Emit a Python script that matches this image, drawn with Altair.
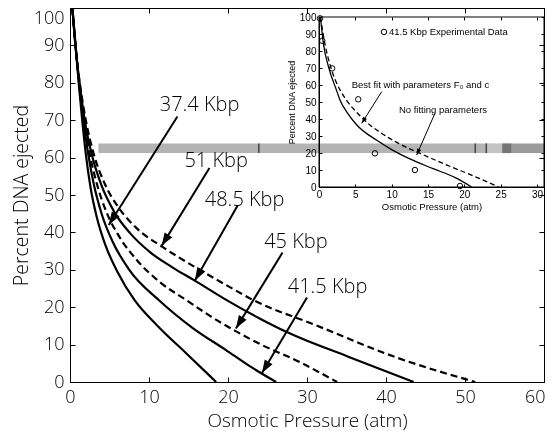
import math
import altair as alt
import pandas as pd

W, H = 474, 374
MAIN_FONT = "Open Sans"
INSET_FONT = "Liberation Sans Narrow, Liberation Sans, Arial, sans-serif"

# ---------------- main plot data ----------------
k374_x = [0.3, 0.7, 1.1, 1.5, 2.0, 2.6, 3.4, 4.5, 6.0, 8.2, 11.0, 14.8, 18.5]
k374_y = [100, 90, 80, 71, 61, 52, 44, 36.5, 29.5, 21.8, 15.2, 7.5, 0]
k415_x = [0.3, 0.7, 1.2, 1.7, 2.3, 3.0, 4.0, 5.4, 7.5, 11.3, 15.5, 19.7, 22.7, 26.1]
k415_y = [100, 90, 79, 70, 61, 53, 45, 37.5, 30, 21.8, 14.5, 8.6, 4.3, 0]
k45_x = [0.3, 0.7, 1.2, 1.8, 2.5, 3.4, 4.6, 6.2, 8.5, 11.5, 14.8, 18.0, 20.8, 24.0, 29.0, 33.8]
k45_y = [100, 90, 79.5, 70, 61, 53, 45.5, 39, 32.5, 26.5, 21.8, 17.3, 13.8, 10.2, 5.4, 0]
k485_x = [0.3, 0.7, 1.3, 1.9, 2.8, 4.0, 5.6, 7.6, 10.2, 13.0, 15.8, 19.5, 24.0, 27.3, 35.3, 43.5]
k485_y = [100, 89.5, 78.5, 69.5, 60.5, 52.5, 45.5, 39.8, 34.6, 30.6, 27.1, 22.3, 17.0, 13.5, 6.7, 0]
k51_x = [0.3, 0.7, 1.3, 2.0, 3.0, 4.4, 6.2, 8.5, 11.8, 16.0, 19.7, 23.3, 31.1, 41.0, 51.3]
k51_y = [100, 89.5, 79, 70, 61, 53, 46.5, 41, 36.0, 30.5, 26, 21.8, 15.2, 6.8, 0]

curve_names = ["37.4", "41.5", "45", "48.5", "51"]
curve_xs = [k374_x, k415_x, k45_x, k485_x, k51_x]
curve_ys = [k374_y, k415_y, k45_y, k485_y, k51_y]
curve_dashed = [False, False, True, False, True]

label_text = ["37.4 Kbp", "51 Kbp", "48.5 Kbp", "45 Kbp", "41.5 Kbp"]
label_x = [16.4, 18.5, 22.1, 28.6, 32.6]
label_y = [74.1, 59.2, 48.7, 37.3, 25.3]
arrow_x0 = [13.6, 17.65, 21.2, 26.9, 30.0]
arrow_y0 = [71.0, 57.2, 47.1, 34.6, 22.6]
arrow_x1 = [4.9, 11.6, 15.8, 21.0, 24.3]
arrow_y1 = [42.0, 36.4, 27.1, 14.3, 2.4]

main_xticks = [0, 10, 20, 30, 40, 50, 60]
main_xlabels_mid = [0, 10, 20, 30, 40, 50]
main_xlabel_end = [60]
main_yticks = [0, 10, 20, 30, 40, 50, 60, 70, 80, 90, 100]
main_ylabels_mid = [0, 10, 20, 30, 40, 50, 60, 70, 80, 90]
main_ylabel_end = [100]

# ---------------- inset data ----------------
IX0 = 249                      # inset x=0 position inside the main plot (px)
IPX = 218 / 30                 # inset px per unit
IX_MAX = (W - IX0) / IPX
exp_x = [0.14, 0.45, 1.8, 5.4, 7.7, 13.2, 19.4]
exp_y = [99.2, 86, 69.8, 51.6, 19.8, 10, 0.6]
fit_x = [0.2, 0.6, 1.3, 2.4, 2.9, 4.0, 5.2, 7.9, 10.0, 12.5, 15.7, 18.9, 21.0]
fit_y = [100, 84.5, 70.8, 57, 51, 43, 36.5, 27.6, 22.0, 16.5, 10.8, 5.2, 0]
nofit_x = [0.2, 0.8, 1.6, 2.9, 3.8, 5.5, 7.0, 9.0, 11.0, 13.9, 17.6, 21.7, 24.7]
nofit_y = [100, 84.5, 70.8, 57, 51, 42.5, 36.5, 30.5, 25.5, 19.8, 12.9, 5.7, 0]
inset_xticks = [0, 5, 10, 15, 20, 25, 30]
inset_yticks = [0, 10, 20, 30, 40, 50, 60, 70, 80, 90, 100]
inset_text = ["41.5 Kbp Experimental Data", "Best fit with parameters F\u2080 and c", "No fitting parameters"]
inset_text_x = [9.63, 13.97, 17.06]
inset_text_y = [91.2, 60.0, 45.3]
inset_text_align = ["left", "center", "center"]
legend_marker_x = [8.94]
legend_marker_y = [91.2]
iarrow_x0 = [8.63, 15.96]
iarrow_y0 = [56.1, 43.4]
iarrow_x1 = [5.88, 13.44]
iarrow_y1 = [37.5, 18.8]

# ---------------- scan band (grey strip) ----------------
band_x0 = [3.6, 52.7, 54.7, 55.9]
band_x1 = [52.7, 54.7, 55.9, 60.2]
band_color = ["#b3b3b3", "#c4c4c4", "#767676", "#9b9b9b"]
band_y0 = [61.2, 61.2, 61.2, 61.2]
band_y1 = [63.8, 63.8, 63.8, 63.8]
stripe_x = [23.9, 51.3, 52.7]


# ---------------- scales ----------------
def mxs():
    return alt.Scale(domain=[0, 60], range=[0, W], nice=False, zero=False)


def mys():
    return alt.Scale(domain=[0, 100], range=[H, 0], nice=False, zero=False)


def ixs():
    return alt.Scale(domain=[0, IX_MAX], range=[IX0, W], nice=False, zero=False)


def iys():
    return alt.Scale(domain=[0, 100], range=[179, 9], nice=False, zero=False)


ARROW_PATH = "M0,0 L-0.9,2.6 L0.9,2.6 Z"


def arrow_angle(x0, y0, x1, y1, sx, sy):
    dx = (x1 - x0) * sx
    dy = -(y1 - y0) * sy
    return (math.degrees(math.atan2(dx, -dy)) + 360) % 360


# ---------------- main curves ----------------
rows = []
for name, xs, ys, dashed in zip(curve_names, curve_xs, curve_ys, curve_dashed):
    for i, (x, y) in enumerate(zip(xs, ys)):
        rows.append({"name": name, "x": x, "y": y, "i": i, "dashed": dashed})
curves_df = pd.DataFrame(rows)

lab_common = dict(labelFont=MAIN_FONT, labelFontSize=18, labelFontWeight=300, labelColor="black",
                  labelOverlap=False, grid=False)
main_x_axis = alt.Axis(orient="bottom", values=main_xlabels_mid, ticks=False, labelPadding=6,
                       labelFlush=False, domainColor="black",
                       title="Osmotic Pressure (atm)", titleFont=MAIN_FONT, titleFontSize=19,
                       titleFontWeight=300, titleColor="black", titlePadding=5, **lab_common)
main_y_axis = alt.Axis(orient="left", values=main_ylabels_mid, ticks=False, labelPadding=6,
                       labelFlush=False, domainColor="black",
                       title="Percent DNA ejected", titleFont=MAIN_FONT, titleFontSize=19.5,
                       titleFontWeight=300, titleColor="black", titlePadding=12, **lab_common)

solid = alt.Chart(curves_df[~curves_df["dashed"]]).mark_line(
    color="black", strokeWidth=2.2, interpolate="monotone").encode(
    x=alt.X("x:Q", scale=mxs(), axis=main_x_axis),
    y=alt.Y("y:Q", scale=mys(), axis=main_y_axis),
    detail="name:N", order="i:Q")

dashed = alt.Chart(curves_df[curves_df["dashed"]]).mark_line(
    color="black", strokeWidth=2.2, strokeDash=[7, 4], interpolate="monotone").encode(
    x=alt.X("x:Q", scale=mxs(), axis=None),
    y=alt.Y("y:Q", scale=mys(), axis=None),
    detail="name:N", order="i:Q")

# the end labels ("60" and "100") are kept inside the page edge
end_labels = alt.Chart(pd.DataFrame({"x": main_xlabel_end, "y": main_ylabel_end})).mark_point(
    opacity=0).encode(
    x=alt.X("x:Q", scale=mxs(), axis=alt.Axis(
        orient="bottom", values=main_xlabel_end, ticks=False, domain=False, labelPadding=6,
        labelFlush=True, labelFlushOffset=1, title=None, **lab_common)),
    y=alt.Y("y:Q", scale=mys(), axis=alt.Axis(
        orient="left", values=main_ylabel_end, ticks=False, domain=False, labelPadding=6,
        labelFlush=True, labelFlushOffset=-1, title=None, **lab_common)))


def tick_layer(xs, ys, xvals, yvals, xorient, xoff, yorient, yoff, size):
    d = pd.DataFrame({"x": [xvals[0]], "y": [yvals[0]]})
    common = dict(labels=False, domain=False, ticks=True, tickSize=size, tickColor="black",
                  tickWidth=1, title=None, grid=False, zindex=1)
    return alt.Chart(d).mark_point(opacity=0).encode(
        x=alt.X("x:Q", scale=xs, axis=alt.Axis(orient=xorient, offset=xoff, values=xvals, **common)),
        y=alt.Y("y:Q", scale=ys, axis=alt.Axis(orient=yorient, offset=yoff, values=yvals, **common)))


main_ticks_a = tick_layer(mxs(), mys(), main_xticks, main_yticks, "top", -H, "right", -W, 5)
main_ticks_b = tick_layer(mxs(), mys(), main_xticks, main_yticks, "bottom", -H, "left", -W, 5)

# main arrows
ang = [arrow_angle(a, b, c, d, W / 60, H / 100)
       for a, b, c, d in zip(arrow_x0, arrow_y0, arrow_x1, arrow_y1)]
arr_df = pd.DataFrame({"x0": arrow_x0, "y0": arrow_y0, "x1": arrow_x1, "y1": arrow_y1, "ang": ang})
arrow_lines = alt.Chart(arr_df).mark_rule(color="black", strokeWidth=2).encode(
    x=alt.X("x0:Q", scale=mxs(), axis=None), y=alt.Y("y0:Q", scale=mys(), axis=None),
    x2="x1:Q", y2="y1:Q")
arrow_heads = alt.Chart(arr_df).mark_point(shape=ARROW_PATH, filled=True, color="black",
                                           size=100, opacity=1).encode(
    x=alt.X("x1:Q", scale=mxs(), axis=None), y=alt.Y("y1:Q", scale=mys(), axis=None),
    angle=alt.Angle("ang:Q", scale=None))

lab_df = pd.DataFrame({"x": label_x, "y": label_y, "t": label_text})
labels = alt.Chart(lab_df).mark_text(font=MAIN_FONT, fontSize=20, fontWeight=300, color="black",
                                     align="center", baseline="middle").encode(
    x=alt.X("x:Q", scale=mxs(), axis=None), y=alt.Y("y:Q", scale=mys(), axis=None), text="t:N")

# ---------------- inset ----------------
inset_x_axis = alt.Axis(orient="bottom", offset=179 - H, values=inset_xticks, ticks=False,
                        labelPadding=2, labelFont=INSET_FONT, labelFontSize=10, labelColor="black",
                        labelFlush=False, labelOverlap=False, grid=False, domainColor="black",
                        title="Osmotic Pressure (atm)", titleFont=INSET_FONT, titleFontSize=9.5,
                        titleFontWeight="normal", titleColor="black", titlePadding=2, zindex=1)
inset_y_axis = alt.Axis(orient="left", offset=-IX0, values=inset_yticks, ticks=False,
                        labelPadding=3, labelFont=INSET_FONT, labelFontSize=10, labelColor="black",
                        labelFlush=False, labelOverlap=False, grid=False, domainColor="black",
                        title="Percent DNA ejected", titleFont=INSET_FONT, titleFontSize=9,
                        titleFontWeight="normal", titleColor="black", titlePadding=3, zindex=1)

frame_df = pd.DataFrame({"x": [0], "x2": [IX_MAX], "y": [0], "y2": [100]})
inset_frame = alt.Chart(frame_df).mark_rect(fill="white", stroke="black", strokeWidth=1).encode(
    x=alt.X("x:Q", scale=ixs(), axis=inset_x_axis), x2="x2:Q",
    y=alt.Y("y:Q", scale=iys(), axis=inset_y_axis), y2="y2:Q")

inset_ticks_a = tick_layer(ixs(), iys(), inset_xticks, inset_yticks, "top", -179, "right", IX0 - W, 3)
inset_ticks_b = tick_layer(ixs(), iys(), inset_xticks, inset_yticks, "bottom", 9 - H, "left", -W, 3)

fit_df = pd.DataFrame({"x": fit_x, "y": fit_y, "i": range(len(fit_x))})
nofit_df = pd.DataFrame({"x": nofit_x, "y": nofit_y, "i": range(len(nofit_x))})
fit_line = alt.Chart(fit_df).mark_line(color="black", strokeWidth=1.3, interpolate="monotone").encode(
    x=alt.X("x:Q", scale=ixs(), axis=None), y=alt.Y("y:Q", scale=iys(), axis=None), order="i:Q")
nofit_line = alt.Chart(nofit_df).mark_line(color="black", strokeWidth=1.3, strokeDash=[5, 3],
                                           interpolate="monotone").encode(
    x=alt.X("x:Q", scale=ixs(), axis=None), y=alt.Y("y:Q", scale=iys(), axis=None), order="i:Q")

exp_df = pd.DataFrame({"x": exp_x + legend_marker_x, "y": exp_y + legend_marker_y})
exp_pts = alt.Chart(exp_df).mark_point(shape="circle", filled=False, color="black", size=30,
                                       strokeWidth=1, opacity=1).encode(
    x=alt.X("x:Q", scale=ixs(), axis=None), y=alt.Y("y:Q", scale=iys(), axis=None))

itext_df = pd.DataFrame({"x": inset_text_x, "y": inset_text_y, "t": inset_text, "a": inset_text_align})
itext_left = alt.Chart(itext_df[itext_df["a"] == "left"]).mark_text(
    font=INSET_FONT, fontSize=9.5, color="black", align="left", baseline="middle").encode(
    x=alt.X("x:Q", scale=ixs(), axis=None), y=alt.Y("y:Q", scale=iys(), axis=None), text="t:N")
itext_center = alt.Chart(itext_df[itext_df["a"] == "center"]).mark_text(
    font=INSET_FONT, fontSize=9.5, color="black", align="center", baseline="middle").encode(
    x=alt.X("x:Q", scale=ixs(), axis=None), y=alt.Y("y:Q", scale=iys(), axis=None), text="t:N")

iang = [arrow_angle(a, b, c, d, IPX, 170 / 100)
        for a, b, c, d in zip(iarrow_x0, iarrow_y0, iarrow_x1, iarrow_y1)]
iarr_df = pd.DataFrame({"x0": iarrow_x0, "y0": iarrow_y0, "x1": iarrow_x1, "y1": iarrow_y1, "ang": iang})
iarrow_lines = alt.Chart(iarr_df).mark_rule(color="black", strokeWidth=1).encode(
    x=alt.X("x0:Q", scale=ixs(), axis=None), y=alt.Y("y0:Q", scale=iys(), axis=None),
    x2="x1:Q", y2="y1:Q")
iarrow_heads = alt.Chart(iarr_df).mark_point(shape=ARROW_PATH, filled=True, color="black",
                                             size=24, opacity=1).encode(
    x=alt.X("x1:Q", scale=ixs(), axis=None), y=alt.Y("y1:Q", scale=iys(), axis=None),
    angle=alt.Angle("ang:Q", scale=None))

# ---------------- grey scan band ----------------
band_df = pd.DataFrame({"x0": band_x0, "x1": band_x1, "y0": band_y0, "y1": band_y1, "c": band_color})
band = alt.Chart(band_df).mark_rect(blend="multiply").encode(
    x=alt.X("x0:Q", scale=mxs(), axis=None), x2="x1:Q",
    y=alt.Y("y0:Q", scale=mys(), axis=None), y2="y1:Q",
    color=alt.Color("c:N", scale=None))
stripe_df = pd.DataFrame({"x": stripe_x, "y0": [61.2] * len(stripe_x), "y1": [63.8] * len(stripe_x)})
stripes = alt.Chart(stripe_df).mark_rule(color="#444444", strokeWidth=1.5).encode(
    x=alt.X("x:Q", scale=mxs(), axis=None),
    y=alt.Y("y0:Q", scale=mys(), axis=None), y2="y1:Q")

chart = alt.layer(
    solid, dashed, end_labels, main_ticks_a, main_ticks_b, arrow_lines, arrow_heads, labels,
    inset_frame, inset_ticks_a, inset_ticks_b, fit_line, nofit_line, exp_pts,
    itext_left, itext_center, iarrow_lines, iarrow_heads, band, stripes
).resolve_scale(x="independent", y="independent").properties(
    width=W, height=H,
    padding={"left": 62, "top": 0, "right": 1, "bottom": 49},
    autosize=alt.AutoSizeParams(type="none"),
    background="white",
).configure_view(stroke="black", strokeWidth=1)

chart.save("out.html", embed_options={"renderer": "svg", "actions": False})
